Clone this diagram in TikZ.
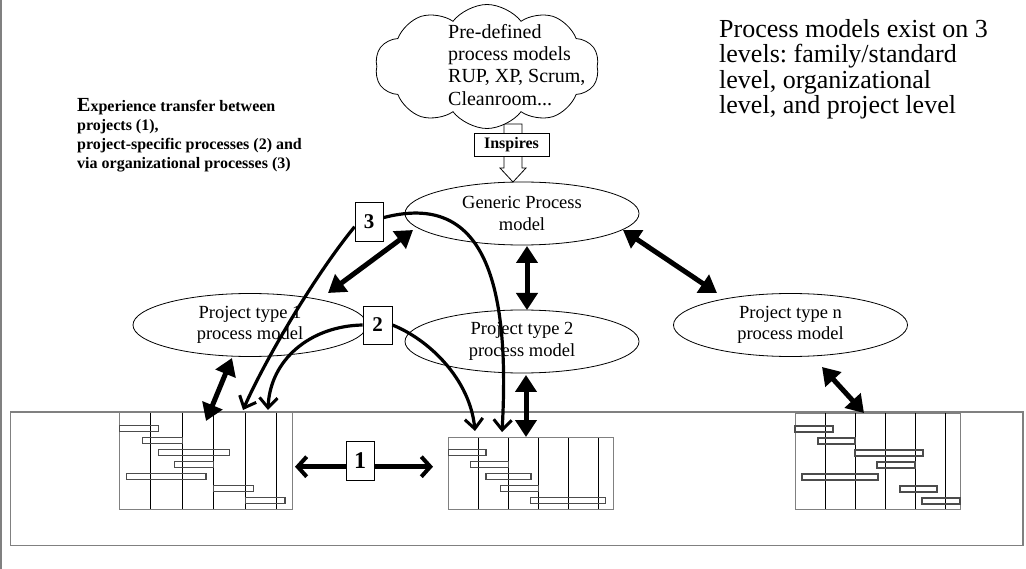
\documentclass[tikz,border=0pt]{standalone}
\usepackage{fontspec}
\setmainfont{Liberation Serif}
\frenchspacing
\usetikzlibrary{shapes.geometric,shapes.symbols,arrows.meta}
\begin{document}
\begin{tikzpicture}[x=1pt,y=-1pt,
  pm/.style={ellipse, draw, line width=0.8pt, minimum width=234pt, minimum height=63pt,
    inner sep=0pt, align=center, font=\fontsize{18.5}{21.5}\selectfont},
  dbl/.style={line width=5pt, {Triangle[length=17pt,width=21pt]}-{Triangle[length=17pt,width=21pt]}},
  barbdbl/.style={line width=4.5pt, {Straight Barb[length=9pt,width=20pt,line width=4pt]}-{Straight Barb[length=9pt,width=20pt,line width=4pt]}},
  curvy/.style={line width=3.2pt, -{Straight Barb[length=10pt,width=18pt,line width=3pt]}},
  numbox/.style={draw, fill=white, line width=0.8pt, inner sep=0pt,
    font=\bfseries\fontsize{21}{21}\selectfont},
  chart/.style={draw=gray, line width=1pt, inner sep=0pt},
  col/.style={line width=0.8pt},
  bar/.style={draw=black!70, line width=1.2pt},
  frame/.style={draw=gray, line width=1.5pt}
]
\useasboundingbox (0,0) rectangle (1026,569);
\draw[frame] (1,0) -- (1,569);

% organisation frame
\draw[frame] (10.5,412) rectangle (1023,545.7);

% ---------- texts (anchored at the baseline of their last line) ----------
\node[anchor=base west, inner sep=0pt, align=left, font=\bfseries\fontsize{16}{19}\selectfont]
  (exp) at (77,169) {{\fontsize{20}{19}\selectfont E}xperience transfer between\\projects (1),\\project-specific processes (2) and\\via organizational processes (3)};
\node[anchor=base west, inner sep=0pt, align=left, font=\fontsize{26}{25.5}\selectfont]
  (lev) at (719,113.8) {Process models exist on 3\\levels: family/standard\\level, organizational\\level, and project level};

% ---------- cloud and hollow arrow ----------
\coordinate (inspTip) at (513,182);
\draw[line width=0.8pt, fill=white] (504,124) -- (504,168) -- (500,168) -- (inspTip) -- (526,168) -- (522,168) -- (522,124) -- cycle;
\node[cloud, draw, fill=white, line width=0.8pt, cloud puffs=10, cloud puff arc=105,
  cloud ignores aspect, minimum width=224pt, minimum height=124pt, inner sep=0pt] (cloud) at (487,66.5) {};
\node[anchor=base west, inner sep=0pt, align=left, font=\fontsize{20}{22.3}\selectfont]
  (cloudtxt) at (448,105.2) {Pre-defined\\process models\\RUP, XP, Scrum,\\Cleanroom...};
\node[draw, fill=white, line width=0.8pt, minimum width=75pt, minimum height=23pt, inner sep=0pt,
  font=\bfseries\fontsize{16}{16}\selectfont] (insp) at (511.5,144.5) {Inspires};

% ---------- process models ----------
\node[pm] (gen) at (522,213.5) {Generic Process\\model};
\node[pm] (pt1) at (250,325) {Project type 1\\process model};
\node[pm] (pt2) at (522,341.5) {Project type 2\\process model};
\node[pm] (ptn) at (790.5,325) {Project type n\\process model};

% ---------- project plans ----------
% left plan
\node[chart, minimum width=173.4pt, minimum height=96.6pt] (g1) at (206,461) {};
\foreach \x in {150.7,182.3,213.7,245.3,276.7} \draw[col] (\x,412.7) -- (\x,509.3);
\foreach \a/\b/\y in {119.3/158.7/425.7, 142.7/182.3/437.7, 158.3/229.7/449.7, 174.3/213.7/461.7,
  126.7/206/473.7, 213.7/253.3/485.7, 245.3/285/497.7}
  \draw[bar] (\a,\y) rectangle (\b,\y+6);
% middle plan
\node[chart, minimum width=165pt, minimum height=71.6pt] (g2) at (530.8,473.5) {};
\foreach \x in {478.3,508.3,538.3,568.3,598.3} \draw[col] (\x,437.7) -- (\x,509.3);
\foreach \a/\b/\y in {448.3/486/449.7, 470.7/508.3/461.7, 486/531/473.7, 500.7/538.3/485.7, 530.7/605.7/497.7}
  \draw[bar] (\a,\y) rectangle (\b,\y+6);
% right plan
\node[chart, minimum width=165pt, minimum height=96pt] (g3) at (877.5,461) {};
\foreach \x in {825,855,885,915,945} \draw[col] (\x,413) -- (\x,509);
\foreach \a/\b/\y in {795/833/426, 818/855/438, 855/923/450, 877/915/462, 802/878/474, 900/937/486, 922/960/498}
  \draw[bar] (\a,\y) rectangle (\b,\y+6);

% ---------- connector end points ----------
\coordinate (genSW) at (413,230);
\coordinate (genS)  at (527,246);
\coordinate (genSE) at (623,230);
\coordinate (pt1N)  at (328,293);
\coordinate (pt1S)  at (232,358);
\coordinate (pt2N)  at (527,310);
\coordinate (pt2S)  at (526,375);
\coordinate (ptnN)  at (717,293);
\coordinate (ptnS)  at (822,367);
\coordinate (g1a) at (206,421);
\coordinate (g1b) at (243,410);
\coordinate (g1c) at (268,410);
\coordinate (g1r) at (295,466.7);
\coordinate (g2l) at (433,466.7);
\coordinate (g2a) at (475,431);
\coordinate (g2b) at (502,432);
\coordinate (g2c) at (526,437);
\coordinate (g3a) at (864,413);

% ---------- model hierarchy arrows ----------
\draw[dbl] (pt1N) -- (genSW);
\draw[dbl] (genS) -- (pt2N);
\draw[dbl] (genSE) -- (ptnN);
\draw[dbl] (pt1S) -- (g1a);
\draw[dbl] (pt2S) -- (g2c);
\draw[dbl] (ptnS) -- (g3a);

% ---------- experience transfer ----------
\node[numbox, minimum width=28pt, minimum height=39pt] (n3) at (369,221.5) {3};
\node[numbox, minimum width=29pt, minimum height=38pt] (n2) at (377.5,325) {2};
\draw[curvy] (n3.200) .. controls (315,275) and (265,360) .. (g1b);
\draw[curvy] (n3.15) .. controls (470,195) and (512,255) .. (g2b);
\draw[curvy] (n2.180) .. controls (310,326) and (270,360) .. (g1c);
\draw[curvy] (n2.east) .. controls (430,340) and (470,380) .. (g2a);
\draw[barbdbl] (g1r) -- (g2l);
\node[numbox, minimum width=28pt, minimum height=38.6pt, font=\bfseries\fontsize{24}{24}\selectfont] (n1) at (360.2,461) {1};
\end{tikzpicture}
\end{document}
